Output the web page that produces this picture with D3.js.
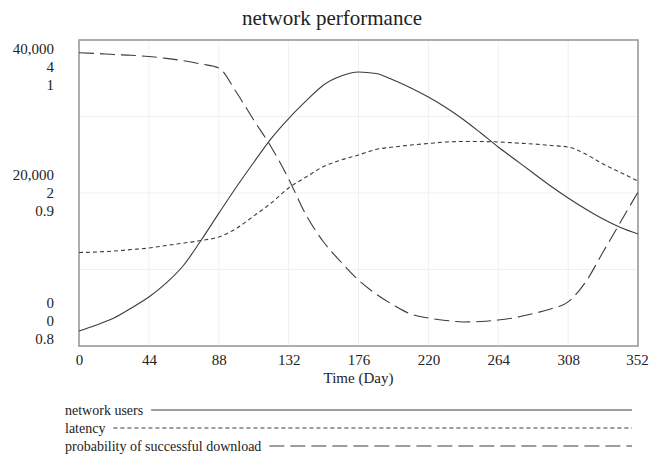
<!DOCTYPE html>
<html>
<head>
<meta charset="utf-8">
<script src="https://cdn.jsdelivr.net/npm/d3@7"></script>
<style>
	body { margin: 0; background: #fff; }
	svg { display: block; }
	text { font-family: "Liberation Serif", "Times New Roman", serif; fill: #222; }
</style>
</head>
<body>
<div id="chart"></div>
<script>
// --------- Data --------- //
var days = [0, 11, 22, 33, 44, 55, 66, 77, 88, 99, 110, 121, 132, 143, 154, 165, 176,
	187, 198, 209, 220, 231, 242, 253, 264, 275, 286, 297, 308, 319, 330, 341, 352];

var networkUsers = [1960, 2750, 3660, 4970, 6400, 8240, 10590, 13860, 17330, 20750, 23990,
	27110, 29730, 32030, 34120, 35290, 35820, 35620, 34770, 33730, 32550, 31180, 29610,
	27840, 26010, 24310, 22610, 20920, 19350, 17910, 16600, 15490, 14640];

var latency = [1.222, 1.229, 1.242, 1.261, 1.281, 1.314, 1.346, 1.379, 1.425, 1.536, 1.699,
	1.869, 2.065, 2.209, 2.346, 2.431, 2.497, 2.569, 2.601, 2.627, 2.647, 2.667, 2.673,
	2.673, 2.667, 2.654, 2.641, 2.621, 2.601, 2.510, 2.379, 2.268, 2.157];

var probDownload = [0.9917, 0.9912, 0.9905, 0.9900, 0.9892, 0.9880, 0.9864, 0.9843, 0.9817,
	0.9660, 0.9477, 0.9301, 0.9092, 0.8856, 0.8680, 0.8549, 0.8431, 0.8340, 0.8268, 0.8209,
	0.8183, 0.8167, 0.8157, 0.8160, 0.8170, 0.8186, 0.8212, 0.8242, 0.8288, 0.8418, 0.8614,
	0.8810, 0.9007];

var xTicks = [0, 44, 88, 132, 176, 220, 264, 308, 352];
var userTicks = [0, 20000, 40000];
var latencyTicks = [0, 2, 4];
var probTicks = [0.8, 0.9, 1];

var seriesNames = ["network users", "latency", "probability of successful download"];
// --------- /Data --------- //

var width = 649, height = 461;
var plot = {left: 79, right: 638, top: 40, bottom: 346};
var lineColor = "#3c3c3c";
var dashes = [null, "4,3", "15,6"];

var svg = d3.select("#chart").append("svg")
	.attr("width", width)
	.attr("height", height);

var x = d3.scaleLinear().domain([0, 352]).range([plot.left, plot.right]);
var yUsers = d3.scaleLinear().domain([0, 40000]).range([plot.bottom, plot.top]);
var yLatency = d3.scaleLinear().domain([0, 4]).range([plot.bottom, plot.top]);
var yProb = d3.scaleLinear().domain([0.8, 1]).range([plot.bottom, plot.top]);

// title
svg.append("text")
	.attr("x", 332)
	.attr("y", 25)
	.attr("text-anchor", "middle")
	.style("font-size", "21px")
	.text("network performance");

// faint grid
var gridG = svg.append("g").attr("stroke", "#f0f0f0").attr("stroke-width", 1);
gridG.selectAll("line.v").data(xTicks.slice(1, -1)).enter().append("line")
	.attr("x1", function(d){ return x(d); })
	.attr("x2", function(d){ return x(d); })
	.attr("y1", plot.top).attr("y2", plot.bottom);
gridG.selectAll("line.h").data([10000, 20000, 30000]).enter().append("line")
	.attr("x1", plot.left).attr("x2", plot.right)
	.attr("y1", function(d){ return yUsers(d); })
	.attr("y2", function(d){ return yUsers(d); });

// plot frame
svg.append("rect")
	.attr("x", plot.left)
	.attr("y", plot.top)
	.attr("width", plot.right - plot.left)
	.attr("height", plot.bottom - plot.top)
	.attr("fill", "none")
	.attr("stroke", "#999")
	.attr("stroke-width", 1.6);

// x axis
var xAxisG = svg.append("g")
	.attr("transform", "translate(0," + plot.bottom + ")")
	.call(d3.axisBottom(x).tickValues(xTicks).tickSize(0).tickPadding(8).tickFormat(d3.format("d")));
xAxisG.select(".domain").remove();
xAxisG.selectAll("text")
	.style("font-family", "\"Liberation Serif\", serif")
	.style("font-size", "15px")
	.attr("fill", "#222")
	.attr("dx", function(d){ return d === 352 ? -1 : 0; }); // keep last label inside the page

svg.append("text")
	.attr("x", (plot.left + plot.right) / 2)
	.attr("y", 383)
	.attr("text-anchor", "middle")
	.style("font-size", "15px")
	.text("Time (Day)");

// stacked y labels: one row per series, one block per tick
var yGroups = [
	{ticks: userTicks, scale: yUsers, fmt: d3.format(",")},
	{ticks: latencyTicks, scale: yLatency, fmt: d3.format("d")},
	{ticks: probTicks, scale: yProb, fmt: function(v){ return v === 1 ? "1" : d3.format(".1f")(v); }}
];
var blockShift = [-25, 0, 27];
var yLabelG = svg.append("g");
yGroups.forEach(function(grp, row){
	grp.ticks.forEach(function(v, b){
		yLabelG.append("text")
			.attr("x", 54)
			.attr("y", grp.scale(v) + (row - 1) * 18 + blockShift[b])
			.attr("dy", "0.35em")
			.attr("text-anchor", "end")
			.style("font-size", "15px")
			.text(grp.fmt(v));
	});
});

// series lines
var seriesData = [
	{values: networkUsers, scale: yUsers},
	{values: latency, scale: yLatency},
	{values: probDownload, scale: yProb}
];

seriesData.forEach(function(s, i){
	var line = d3.line()
		.x(function(d, j){ return x(days[j]); })
		.y(function(d){ return s.scale(d); })
		.curve(d3.curveMonotoneX);

	svg.append("path")
		.datum(s.values)
		.attr("d", line)
		.attr("fill", "none")
		.attr("stroke", lineColor)
		.attr("stroke-width", 1.1)
		.attr("stroke-dasharray", dashes[i]);
});

// legend
var legendY = [410, 428, 446];
seriesNames.forEach(function(name, i){
	var t = svg.append("text")
		.attr("x", 65)
		.attr("y", legendY[i] + 5)
		.style("font-size", "14px")
		.text(name);
	var textEnd = 65 + t.node().getComputedTextLength();
	svg.append("line")
		.attr("x1", textEnd + 8)
		.attr("x2", 632)
		.attr("y1", legendY[i])
		.attr("y2", legendY[i])
		.attr("stroke", lineColor)
		.attr("stroke-width", 1.1)
		.attr("stroke-dasharray", dashes[i]);
});
</script>
</body>
</html>
